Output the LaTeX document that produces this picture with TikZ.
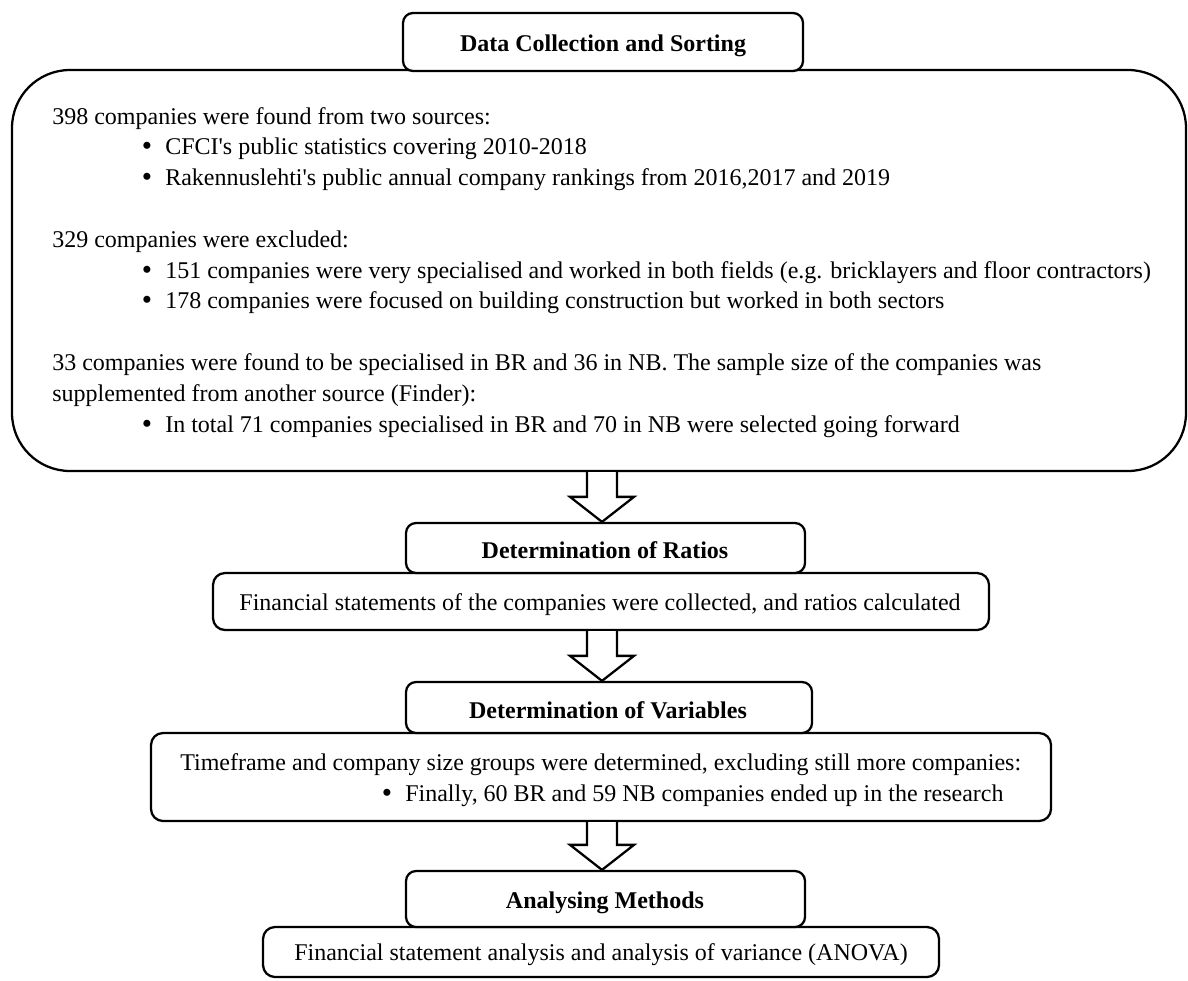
\documentclass[tikz,border=0pt]{standalone}
\usepackage{fontspec}
\setmainfont{Liberation Serif}
\usetikzlibrary{calc}
\newlength\px \setlength\px{0.75pt}
\begin{document}
\begin{tikzpicture}[x=0.75pt,y=-0.75pt,
  box/.style={draw, line width=1.7pt, rounded corners=12\px, fill=white, inner sep=0},
  hdr/.style={box, rounded corners=10\px},
  txt/.style={inner sep=0, anchor=base west, font=\fontsize{18}{22}\selectfont},
  ctxt/.style={inner sep=0, anchor=base, font=\fontsize{18}{22}\selectfont},
  bul/.style={inner sep=0, anchor=base, font=\fontsize{22}{22}\selectfont},
  btxt/.style={inner sep=0, anchor=base, font=\fontsize{18}{22}\selectfont\bfseries},
  blk/.style={draw, line width=1.7pt, fill=white, line join=miter}]
\useasboundingbox (0,0) rectangle (1188,981);

% ---- boxes
\node[box, rounded corners=58\px, minimum width=1174\px, minimum height=401\px] (big) at (599,270.5) {};
\node[hdr, minimum width=400\px, minimum height=58\px] (hdr1) at (603,42) {};

\node[box, minimum width=776\px, minimum height=57\px] (box2) at (601,601.5) {};
\node[hdr, minimum width=399\px, minimum height=50\px] (hdr2) at (605.5,548) {};

\node[box, minimum width=900\px, minimum height=88\px] (box3) at (601,777) {};
\node[hdr, minimum width=406\px, minimum height=51\px] (hdr3) at (609,707.5) {};

\node[box, minimum width=676\px, minimum height=50\px] (box4) at (601,952) {};
\node[hdr, minimum width=399\px, minimum height=56\px] (hdr4) at (605.5,899) {};

% ---- header texts
\node[btxt] (h1t) at (603,52) {Data Collection and Sorting};
\node[btxt] (h2t) at (605,558) {Determination of Ratios};
\node[btxt] (h3t) at (608,718) {Determination of Variables};
\node[btxt] (h4t) at (605,908) {Analysing Methods};

% ---- big box texts
\node[txt] (p1) at (52,124) {398 companies were found from two sources:};
\node[bul] (p1b1) at (147,155.8) {•};
\node[txt] (p1i1) at (165,154.8) {CFCI\textquotesingle s public statistics covering 2010-2018};
\node[bul] (p1b2) at (147,186.6) {•};
\node[txt] (p1i2) at (165,185.6) {Rakennuslehti\textquotesingle s public annual company rankings from 2016,2017 and 2019};

\node[txt] (p2) at (52,247.2) {329 companies were excluded:};
\node[bul] (p2b1) at (147,279) {•};
\node[txt] (p2i1) at (165,278) {151 companies were very specialised and worked in both fields (e.g. bricklayers and floor contractors)};
\node[bul] (p2b2) at (147,309.8) {•};
\node[txt] (p2i2) at (165,308.8) {178 companies were focused on building construction but worked in both sectors};

\node[txt] (p3) at (52,370.4) {33 companies were found to be specialised in BR and 36 in NB. The sample size of the companies was};
\node[txt] (p3b) at (52,401.2) {supplemented from another source (Finder):};
\node[bul] (p3b1) at (147,433) {•};
\node[txt] (p3i1) at (165,432) {In total 71 companies specialised in BR and 70 in NB were selected going forward};

% ---- other box texts
\node[ctxt] (t2) at (600,610) {Financial statements of the companies were collected, and ratios calculated};
\node[txt] (t3) at (180,770) {Timeframe and company size groups were determined, excluding still more companies:};
\node[bul] (t3b) at (387,802) {•};
\node[txt] (t3i) at (405,801) {Finally, 60 BR and 59 NB companies ended up in the research};
\node[ctxt] (t4) at (601,960) {Financial statement analysis and analysis of variance (ANOVA)};

% ---- block arrows
\coordinate (ax) at (602,0);
\newcommand\blockarrow[2]{%
  \draw[blk] ($(#1 -| ax)+(-15,0)$) -- ($(#2 -| ax)+(-15,-25)$) -- ($(#2 -| ax)+(-32,-25)$)
    -- (#2 -| ax) -- ($(#2 -| ax)+(32,-25)$) -- ($(#2 -| ax)+(15,-25)$) -- ($(#1 -| ax)+(15,0)$);}
\blockarrow{big.south}{hdr2.north}
\blockarrow{box2.south}{hdr3.north}
\blockarrow{box3.south}{hdr4.north}
\end{tikzpicture}
\end{document}
